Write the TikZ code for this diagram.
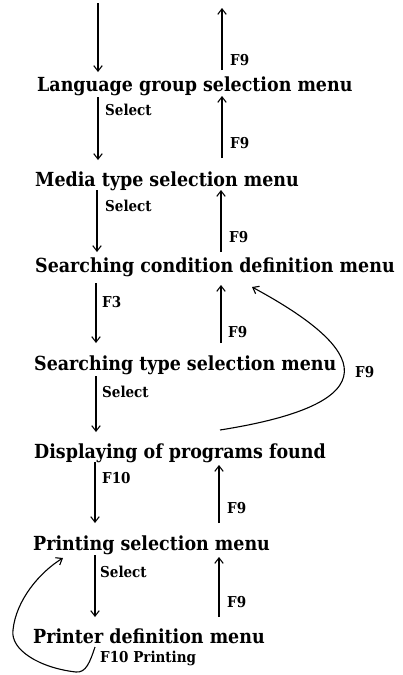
\documentclass[tikz,border=0pt]{standalone}
\usepackage{fontspec}
\newfontfamily\menufont[FakeStretch=0.9]{DejaVu Serif}
\usetikzlibrary{arrows.meta}
\begin{document}
\begin{tikzpicture}[x=1pt,y=-1pt,
  menu/.style={font=\menufont\fontsize{19.4}{22}\selectfont\bfseries, inner sep=0pt, anchor=base west},
  lbl/.style={font=\menufont\fontsize{15}{17}\selectfont\bfseries, inner sep=0pt, anchor=base west},
  arr/.style={line width=1.1pt, -{Straight Barb[length=5.5pt,width=8.5pt,line width=1.1pt]}}]
\useasboundingbox (0,0) rectangle (403,675);
% menus
\node[menu] (lang) at (37,91) {Language group selection menu};
\node[menu] (media) at (35,186) {Media type selection menu};
\node[menu] (sc) at (35,272) {Searching condition definition menu};
\node[menu] (st) at (34,370) {Searching type selection menu};
\node[menu] (disp) at (34,458) {Displaying of programs found};
\node[menu] (print) at (33,550) {Printing selection menu};
\node[menu] (printer) at (33,643) {Printer definition menu};
% free ends at the top
\coordinate (topd) at (98,3);
\coordinate (topu) at (222,8);
% top arrows
\draw[arr] (topd) -- ([xshift=61pt]lang.north west |- 0,72);
\draw[arr] ([xshift=185pt]lang.north west |- 0,70) -- (topu);
% lang <-> media
\draw[arr] ([xshift=61pt,yshift=-6pt]lang.base west) -- ([xshift=61pt]lang.base west |- 0,160);
\draw[arr] ([xshift=185pt]lang.base west |- 0,158) -- ([xshift=185pt,yshift=-5pt]lang.base west);
% media <-> sc
\draw[arr] ([xshift=62pt,yshift=-4pt]media.base west) -- ([xshift=62pt]media.base west |- 0,252);
\draw[arr] ([xshift=186pt]media.base west |- 0,252) -- ([xshift=186pt,yshift=-4pt]media.base west);
% sc <-> st
\draw[arr] ([xshift=61pt,yshift=-11pt]sc.base west) -- ([xshift=61pt]sc.base west |- 0,343);
\draw[arr] ([xshift=186pt]sc.base west |- 0,343) -- ([xshift=186pt,yshift=-13pt]sc.base west);
% st -> disp
\draw[arr] ([xshift=62pt,yshift=-6pt]st.base west) -- ([xshift=62pt]st.base west |- 0,432);
% disp -> sc (curve)
\draw[arr] ([xshift=186pt]disp.north west |- 0,430) .. controls (410,400) and (350,340) .. ([xshift=217pt,yshift=-15pt]sc.base west);
% disp <-> print
\draw[arr] ([xshift=61pt,yshift=-4pt]disp.base west) -- ([xshift=61pt]disp.base west |- 0,523);
\draw[arr] ([xshift=185pt]disp.base west |- 0,523) -- ([xshift=185pt,yshift=-7pt]disp.base west);
% print <-> printer
\draw[arr] ([xshift=62pt,yshift=-5pt]print.base west) -- ([xshift=62pt]print.base west |- 0,617);
\draw[arr] ([xshift=186pt]print.base west |- 0,617) -- ([xshift=186pt,yshift=-7pt]print.base west);
% printer -> print (curve)
\draw[arr] ([xshift=62pt,yshift=-4pt]printer.base west) .. controls (90,662) and (86,673) .. (76,672)
  .. controls (40,668) and (10,650) .. (13,630)
  .. controls (16,600) and (40,572) .. ([xshift=30pt,yshift=-8pt]print.base west);
% labels
\node[lbl] (l0) at (230,65) {F9};
\node[lbl] (l1) at (105,115) {Select};
\node[lbl] (l2) at (230,148) {F9};
\node[lbl] (l3) at (105,211) {Select};
\node[lbl] (l4) at (229,242) {F9};
\node[lbl] (l5) at (102,307) {F3};
\node[lbl] (l6) at (228,337) {F9};
\node[lbl] (l7) at (102,397) {Select};
\node[lbl] (l8) at (355,377) {F9};
\node[lbl] (l9) at (102,483) {F10};
\node[lbl] (l10) at (227,513) {F9};
\node[lbl] (l11) at (100,577) {Select};
\node[lbl] (l12) at (227,607) {F9};
\node[lbl] (l13) at (100,662) {F10 Printing};
\end{tikzpicture}
\end{document}
